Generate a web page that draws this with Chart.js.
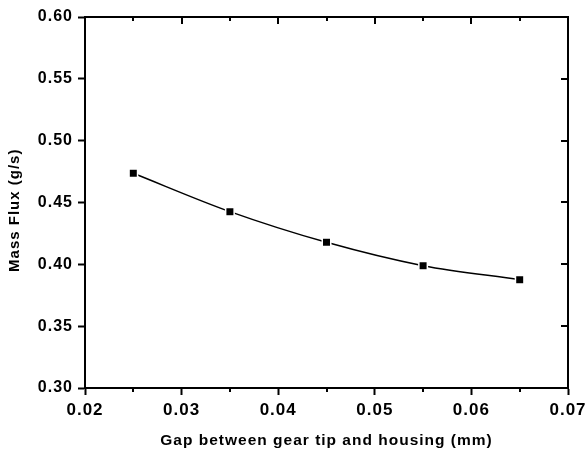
<!DOCTYPE html>
<html>
<head>
<meta charset="utf-8">
<script src="https://cdn.jsdelivr.net/npm/chart.js@4.4.1/dist/chart.umd.min.js"></script>
<style>
  html, body { margin: 0; padding: 0; background: #fff; }
  #wrap { width: 586px; height: 455px; }
</style>
</head>
<body>
<div id="wrap"><canvas id="fluxChart"></canvas></div>
<script>
// data
const gap = [0.025, 0.035, 0.045, 0.055, 0.065];
const massFlux = [0.4736, 0.4426, 0.4178, 0.3989, 0.3876];
const xTicks = [0.02, 0.03, 0.04, 0.05, 0.06, 0.07];
const xMinorTicks = [0.025, 0.035, 0.045, 0.055, 0.065];
const yTicks = [0.30, 0.35, 0.40, 0.45, 0.50, 0.55, 0.60];

const FONT = "'Liberation Sans', Arial, sans-serif";

// the original text is a little spaced out
const spacingPlugin = {
    id: 'spacing',
    beforeInit(chart) { chart.ctx.letterSpacing = '1px'; },
    beforeLayout(chart) { chart.ctx.letterSpacing = '1px'; },
    beforeDraw(chart) { chart.ctx.letterSpacing = '1px'; }
};

// top/right frame with inward ticks, plus minor ticks on x
const framePlugin = {
    id: 'frame',
    afterDraw(chart) {
        const ctx = chart.ctx;
        const a = chart.chartArea;
        const xs = chart.scales.x, ys = chart.scales.y;
        ctx.save();
        ctx.strokeStyle = '#000';
        ctx.lineWidth = 2;
        ctx.beginPath();
        ctx.moveTo(a.left, a.top);
        ctx.lineTo(a.right, a.top);
        ctx.lineTo(a.right, a.bottom);
        // top major ticks, inward
        xTicks.forEach(v => {
            const px = Math.round(xs.getPixelForValue(v));
            ctx.moveTo(px, a.top);
            ctx.lineTo(px, a.top + 7);
        });
        // right major ticks, inward
        yTicks.forEach(v => {
            const py = Math.round(ys.getPixelForValue(v));
            ctx.moveTo(a.right, py);
            ctx.lineTo(a.right - 7, py);
        });
        // minor x ticks
        xMinorTicks.forEach(v => {
            const px = Math.round(xs.getPixelForValue(v));
            ctx.moveTo(px, a.bottom);
            ctx.lineTo(px, a.bottom + 4);
            ctx.moveTo(px, a.top);
            ctx.lineTo(px, a.top + 4);
        });
        ctx.stroke();
        ctx.restore();
    }
};

const ctx = document.getElementById('fluxChart').getContext('2d');
new Chart(ctx, {
    type: 'line',
    data: {
        datasets: [{
            data: gap.map((g, i) => ({ x: g, y: massFlux[i] })),
            borderColor: '#000',
            borderWidth: 1.5,
            cubicInterpolationMode: 'monotone',
            pointStyle: 'rect',
            pointRadius: 6,
            pointBackgroundColor: '#000',
            pointBorderColor: '#fff',
            pointBorderWidth: 1.5,
            fill: false
        }]
    },
    options: {
        responsive: true,
        maintainAspectRatio: false,
        animation: false,
        layout: { padding: { left: 0, top: 17, right: 18, bottom: 0 } },
        plugins: {
            legend: { display: false },
            tooltip: { enabled: false }
        },
        scales: {
            x: {
                type: 'linear',
                min: 0.02,
                max: 0.07,
                afterBuildTicks: s => { s.ticks = xTicks.map(v => ({ value: v })); },
                afterFit: s => { s.height = 67; s.paddingRight = 0; s.paddingLeft = 0; },
                ticks: {
                    color: '#000',
                    padding: 5,
                    maxRotation: 0,
                    font: { family: FONT, size: 17, weight: 'bold' },
                    callback: v => v.toFixed(2)
                },
                grid: { drawOnChartArea: false, tickLength: 7, tickWidth: 2, tickColor: '#000' },
                border: { color: '#000', width: 2 },
                title: {
                    display: true,
                    text: 'Gap between gear tip and housing (mm)',
                    color: '#000',
                    font: { family: FONT, size: 15.5, weight: 'bold' },
                    padding: { top: 0, bottom: 5 }
                }
            },
            y: {
                min: 0.30,
                max: 0.60,
                afterBuildTicks: s => { s.ticks = yTicks.map(v => ({ value: v })); },
                afterFit: s => { s.width = 85; },
                ticks: {
                    color: '#000',
                    padding: 5,
                    font: { family: FONT, size: 16, weight: 'bold' },
                    callback: v => v.toFixed(2)
                },
                grid: { drawOnChartArea: false, tickLength: 7, tickWidth: 2, tickColor: '#000' },
                border: { color: '#000', width: 2 },
                title: {
                    display: true,
                    text: 'Mass Flux (g/s)   ',
                    color: '#000',
                    font: { family: FONT, size: 15, weight: 'bold' },
                    padding: { top: 6, bottom: 0 }
                }
            }
        }
    },
    plugins: [spacingPlugin, framePlugin]
});
</script>
</body>
</html>
